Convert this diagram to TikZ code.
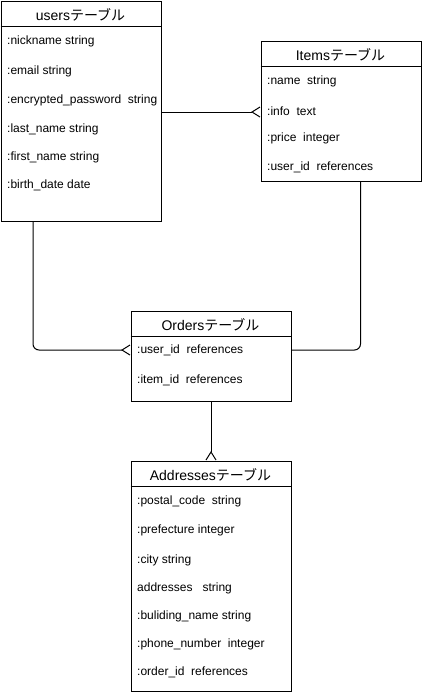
\documentclass[tikz,border=0pt]{standalone}
\usepackage{fontspec}
\setmainfont{Liberation Sans}
\newfontfamily\jp{Noto Sans CJK JP}
\usetikzlibrary{arrows.meta}

\begin{document}
\begin{tikzpicture}[x=1pt,y=-1pt]
    \tikzstyle{table}=[rectangle,draw=black,line width=1pt,anchor=north west,minimum width=160pt,inner sep=0pt]
    \tikzstyle{head}=[anchor=base,inner sep=0pt,font=\fontsize{14}{16}\selectfont]
    \tikzstyle{row}=[anchor=base west,inner sep=0pt,text height=8.5pt,text depth=2.5pt,font=\fontsize{12}{14}\selectfont]
    \tikzstyle{link}=[draw=black,line width=1pt,rounded corners=6pt]
    \tikzstyle{many}=[-{Straight Barb[reversed,length=8pt,width=10pt]}]

    \useasboundingbox (0,0) rectangle (421,694);

    % users
    \node[table,minimum height=220pt] (users) at (0.5,0.5) {};
    \draw[line width=1pt] (0.5,26.5) -- (160.5,26.5);
    \node[head] (usershead) at (80.5,20) {users{\jp テーブル}};
    \node[row] (unick)  at (7,44)  {:nickname string};
    \node[row] (umail)  at (7,74)  {:email string};
    \node[row] (upass)  at (7,103) {:encrypted\_password\ \ string};
    \node[row] (ulast)  at (7,132) {:last\_name string};
    \node[row] (ufirst) at (7,160) {:first\_name string};
    \node[row] (ubirth) at (7,188) {:birth\_date date};

    % Items
    \node[table,minimum height=140pt] (items) at (260.5,40.5) {};
    \draw[line width=1pt] (260.5,66.5) -- (420.5,66.5);
    \node[head] (itemshead) at (340.5,60) {Items{\jp テーブル}};
    \node[row] (iname)  at (267,84)  {:name\ \ string};
    \node[row] (iinfo)  at (267,115) {:info\ \ text};
    \node[row] (iprice) at (267,141) {:price\ \ integer};
    \node[row] (iuser)  at (267,170) {:user\_id\ \ references};

    % Orders
    \node[table,minimum height=90pt] (orders) at (130.5,310.5) {};
    \draw[line width=1pt] (130.5,336.5) -- (290.5,336.5);
    \node[head] (ordershead) at (210.5,330) {Orders{\jp テーブル}};
    \node[row] (ouser) at (137,353) {:user\_id\ \ references};
    \node[row] (oitem) at (137,383) {:item\_id\ \ references};

    % Addresses
    \node[table,minimum height=230pt] (addresses) at (130.5,460.5) {};
    \draw[line width=1pt] (130.5,486.5) -- (290.5,486.5);
    \node[head] (addresseshead) at (210.5,480) {Addresses{\jp テーブル}};
    \node[row] (apostal) at (137,504) {:postal\_code\ \ string};
    \node[row] (apref)   at (137,533) {:prefecture integer};
    \node[row] (acity)   at (137,563) {:city string};
    \node[row] (aaddr)   at (137,591) {addresses\ \ \ string};
    \node[row] (abuild)  at (137,619) {:buliding\_name string};
    \node[row] (aphone)  at (137,647) {:phone\_number\ \ integer};
    \node[row] (aorder)  at (137,675) {:order\_id\ \ references};

    % relations
    \draw[link,many] (users.east |- iinfo) -- (items.west |- iinfo);
    \draw[link,many] ([xshift=32.5pt]users.south west) |- (orders.west |- ouser);
    \draw[link] ([xshift=-61pt]items.south east) |- (orders.east |- ouser);
    \draw[link,many] (orders.south) -- (addresses.north);

\end{tikzpicture}
\end{document}
